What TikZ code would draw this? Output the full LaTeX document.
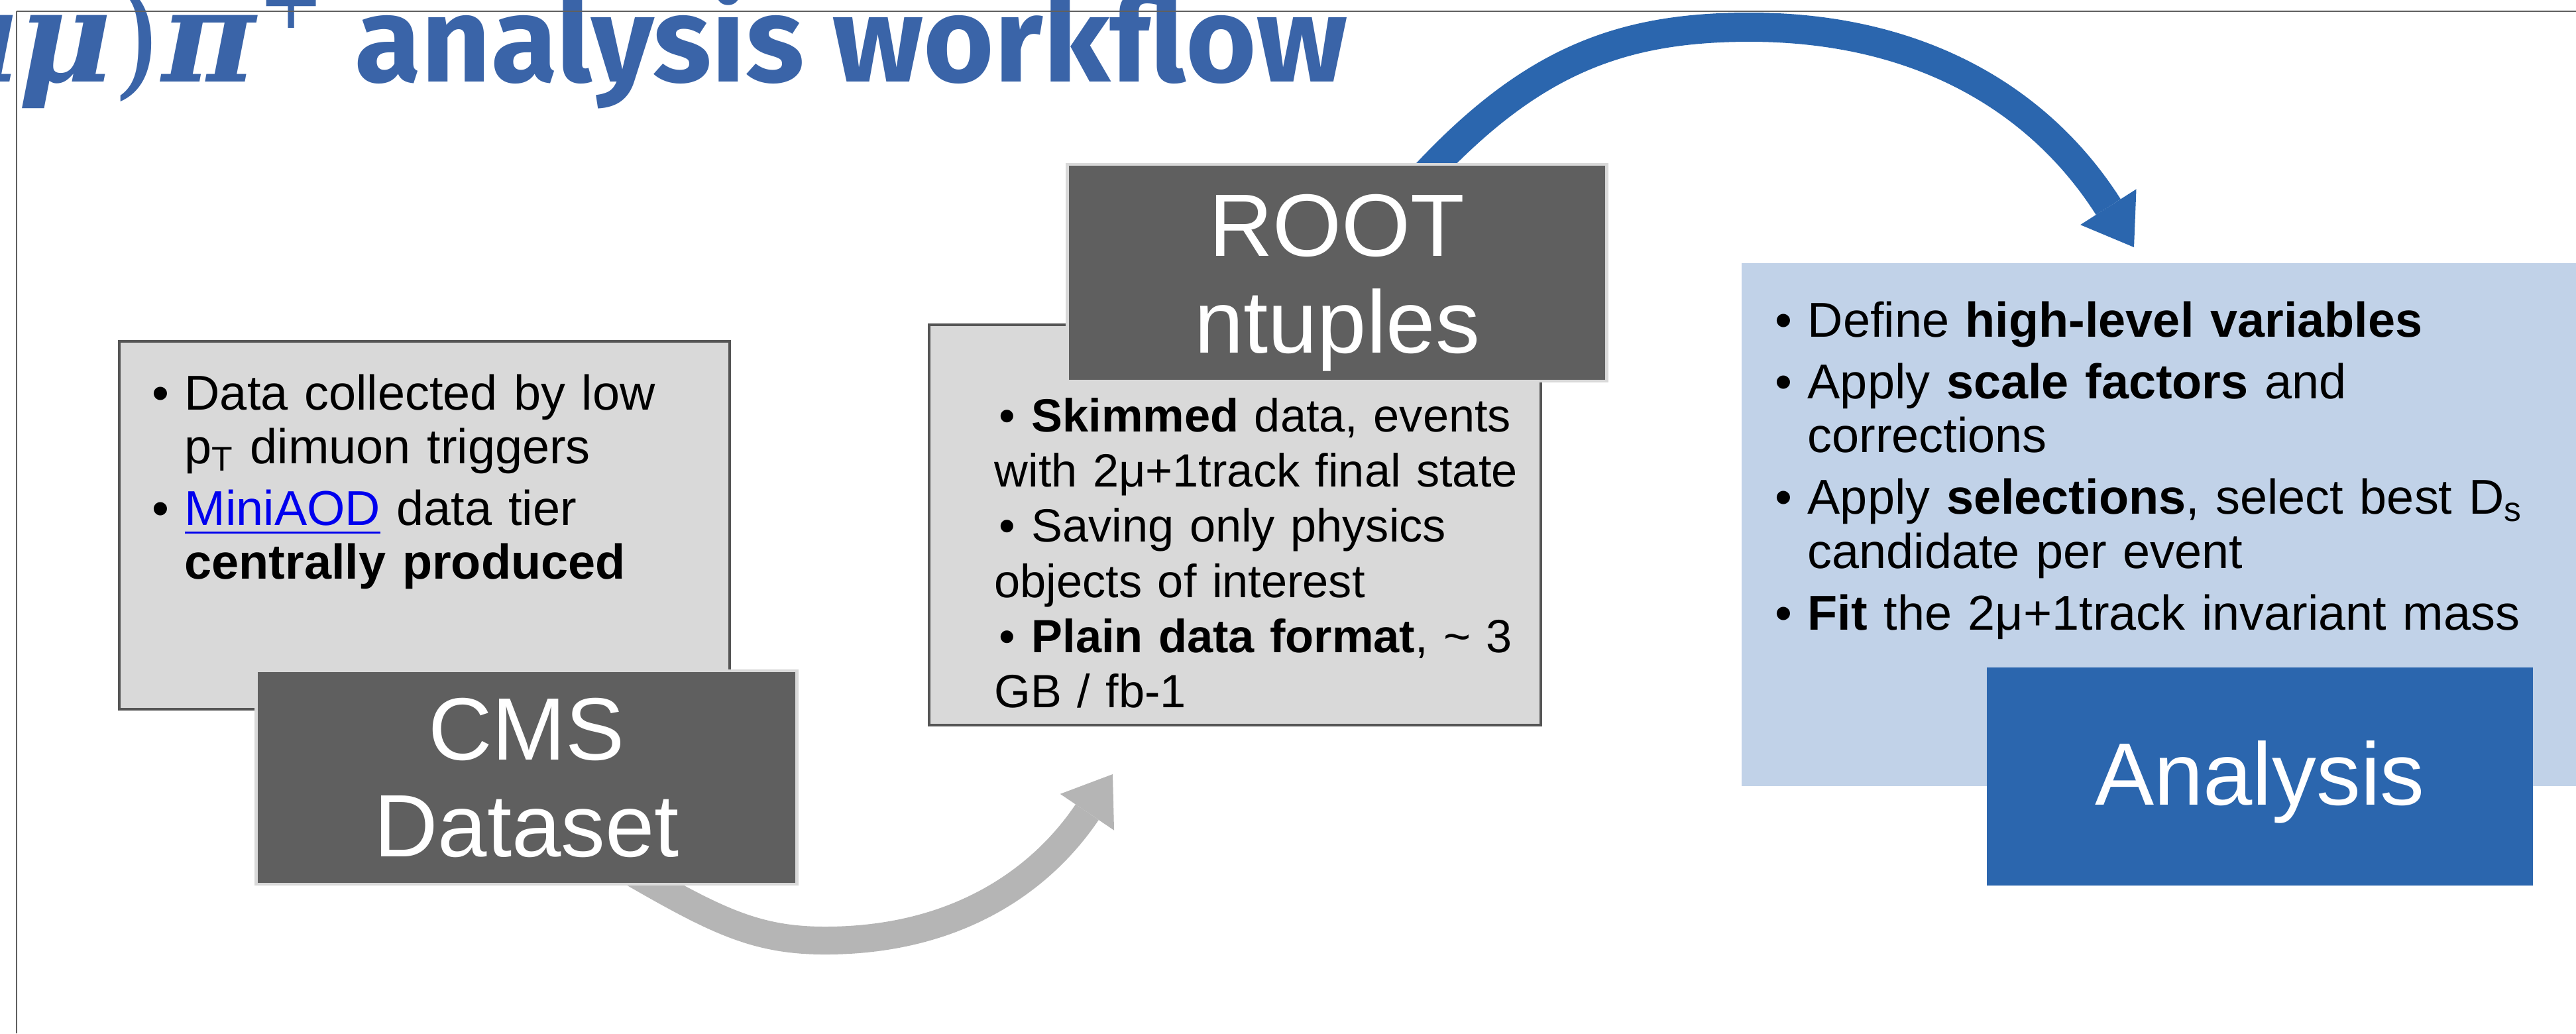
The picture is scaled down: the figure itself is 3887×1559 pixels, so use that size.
\documentclass[tikz,border=0pt]{standalone}
\usepackage{amsmath}
\usepackage{fontspec}
\setmainfont{Liberation Sans}
\newfontfamily\titlefont{Fira Sans}
\newfontfamily\greekfont{DejaVu Serif}
\usetikzlibrary{calc,positioning,arrows.meta,backgrounds}

\definecolor{titleblue}{RGB}{58,100,168}
\definecolor{anablue}{RGB}{43,102,174}
\definecolor{anafill}{RGB}{193,210,232}
\definecolor{darkbox}{RGB}{95,95,95}
\definecolor{lightbox}{RGB}{217,217,217}
\definecolor{boxline}{RGB}{85,85,85}
\definecolor{arrowgray}{RGB}{181,181,181}
\definecolor{linkblue}{RGB}{0,0,238}
\definecolor{framegray}{RGB}{96,96,96}

\newcommand{\bul}{\makebox[0.49cm][l]{\textbullet}}
\newcommand{\ind}{\hspace*{0.49cm}}

\begin{document}
\begin{tikzpicture}[x=0.01cm,y=0.01cm]

\tikzstyle{infobox}=[rectangle, draw=boxline, fill=lightbox, line width=1.1pt, inner sep=0pt]
\tikzstyle{titlebox}=[rectangle, draw=lightbox, fill=darkbox, line width=1.3pt, text=white,
                      align=center, inner sep=0pt, font=\fontsize{38}{41.5}\selectfont]
\tikzstyle{infotext}=[anchor=base west, align=left, inner sep=0pt, font=\fontsize{21}{23.2}\selectfont]
\tikzstyle{flow}=[line width=0.42cm, shorten <=-0.5cm]

\useasboundingbox (0,0) rectangle (3887,-1559);
\clip (0,0) rectangle (3887,-1559);

% title, cut off at the left border
\node[anchor=base west, inner sep=0pt, text=titleblue,
      font=\titlefont\bfseries\fontsize{52}{60}\selectfont] (title) at (535,-123) {analysis workflow};
\node[anchor=base east, inner sep=0pt, text=titleblue,
      font=\greekfont\fontsize{55}{60}\selectfont] (titlemath) at (490,-123)
      {(\textbf{\textit{μμ}})\textbf{\textit{π}}\raisebox{23pt}{\fontsize{34}{34}\selectfont +}};

% text boxes
\node[infobox, minimum width=9.21cm, minimum height=5.55cm] (cmsinfo) at (640.5,-792.5) {};
\node[infobox, minimum width=9.23cm, minimum height=6.04cm] (rootinfo) at (1863.5,-792) {};
\node[rectangle, fill=anafill, inner sep=0pt, minimum width=12.72cm, minimum height=7.89cm] (anainfo) at (3264,-791.5) {};

\node[infotext, text width=8.7cm] (cmstext) at (229,-618) {%
\bul Data collected by low\\
\ind p\textsubscript{T} dimuon triggers\\[0.11cm]
\bul {\color{linkblue}\underline{MiniAOD}} data tier\\
\ind \textbf{centrally produced}};

\node[infotext, text width=8.7cm, font=\fontsize{20}{23.7}\selectfont] (roottext) at (1500,-651) {%
\hspace*{0.07cm}\bul\textbf{Skimmed} data, events\\
with 2μ+1track final state\\
\hspace*{0.07cm}\bul Saving only physics\\
objects of interest\\
\hspace*{0.07cm}\bul\textbf{Plain data format}, \textasciitilde{} 3\\
GB / fb-1};

\node[infotext, text width=11.8cm] (anatext) at (2678,-508) {%
\bul Define \textbf{high-level variables}\\[0.115cm]
\bul Apply \textbf{scale factors} and\\
\ind corrections\\[0.115cm]
\bul Apply \textbf{selections}, select best D\textsubscript{s}\\
\ind candidate per event\\[0.115cm]
\bul \textbf{Fit} the 2μ+1track invariant mass};

% step boxes
\node[titlebox, minimum width=8.15cm, minimum height=3.22cm] (cms) at (794.5,-1173) {CMS\\Dataset};
\node[titlebox, minimum width=8.13cm, minimum height=3.27cm] (root) at (2017.5,-411.5) {\rule{0pt}{0.92em}ROOT\\ntuples};
\node[titlebox, draw=none, fill=anablue, minimum width=8.24cm, minimum height=3.29cm] (ana) at (3410,-1171.5) {\rule{0pt}{0.85em}Analysis};

% curved arrows behind the boxes
\begin{scope}[on background layer]
\coordinate (gbot) at (1245,-1419);
\coordinate (gtip) at (1679,-1168);
\draw[flow, arrowgray, -{Triangle[length=0.69cm, width=0.98cm, line width=0pt]}]
     (cms.-40) to[out=-30,in=180] (gbot) to[out=0,in=236] (gtip);
\coordinate (bpeak) at (2640,-41);
\coordinate (btip) at (3220,-373);
\draw[flow, line width=0.44cm, anablue, -{Triangle[length=0.72cm, width=1.0cm, line width=0pt]}]
     (root) to[out=48,in=180] (bpeak) to[out=0,in=122.5] (btip);
\end{scope}

% slide frame
\draw[framegray, line width=0.6pt] (25,-17) -- (3887,-17);
\draw[framegray, line width=0.35pt] (25,-17) -- (25,-1559);

\end{tikzpicture}
\end{document}
